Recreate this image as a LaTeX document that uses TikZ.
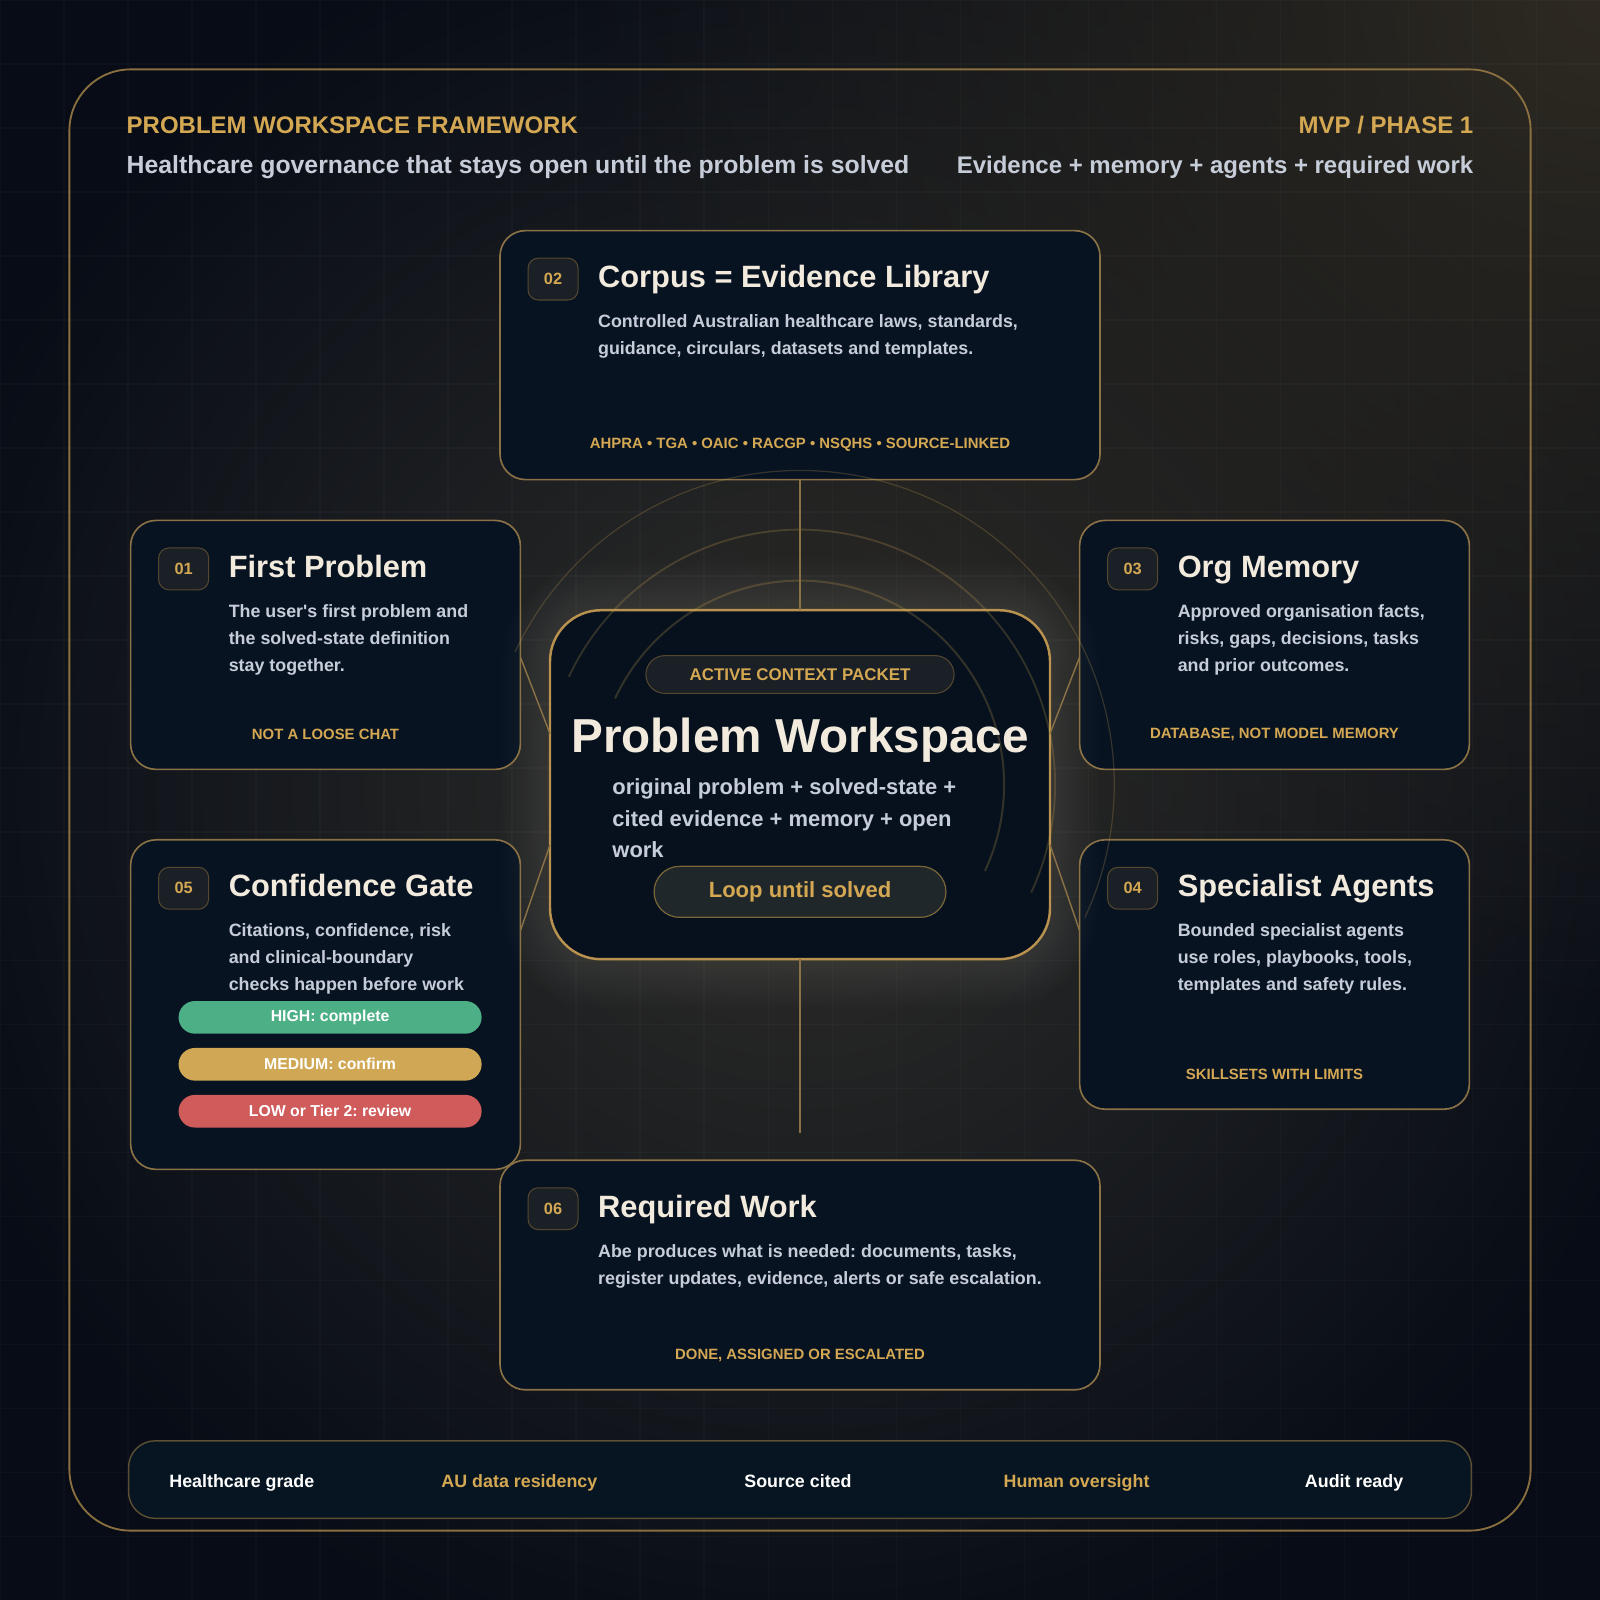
\documentclass[tikz,border=0pt]{standalone}
\usepackage{fontspec}
\setmainfont{Liberation Sans}
\newfontfamily\straightq{Liberation Sans}[Ligatures=TeXOff]
\usetikzlibrary{fadings}
\frenchspacing

\definecolor{bgc}{HTML}{070C16}
\definecolor{warm}{HTML}{2F2E2A}
\definecolor{corner}{HTML}{2E2A22}
\definecolor{halo}{HTML}{E8D9B0}
\definecolor{framec}{HTML}{8A7040}
\definecolor{cardfill}{HTML}{081322}
\definecolor{wsfill}{HTML}{06111D}
\definecolor{cardline}{HTML}{8A7246}
\definecolor{wsline}{HTML}{B8924E}
\definecolor{gold}{HTML}{D4A853}
\definecolor{cream}{HTML}{F2EBDD}
\definecolor{mist}{HTML}{C6CDD9}
\definecolor{chipfill}{HTML}{1B2027}
\definecolor{chipline}{HTML}{55482F}
\definecolor{loopfill}{HTML}{20272A}
\definecolor{loopline}{HTML}{7A6538}
\definecolor{okgreen}{HTML}{4DAF86}
\definecolor{midgold}{HTML}{D0A855}
\definecolor{lowred}{HTML}{D05B5B}
\definecolor{barfill}{HTML}{061521}
\definecolor{barline}{HTML}{5C4F33}

\tikzfading[name=glowfade, inner color=transparent!0, outer color=transparent!100]

\newcommand\bfsize[2]{\fontsize{#1}{#2}\selectfont\bfseries}
\newcommand\apos{{\straightq\bfseries '}}

% cards: name/number/left/top/right/bottom/title
\def\cardlist{corpus/02/490/226/1078/470/{Corpus = Evidence Library},first/01/128/510/510/754/{First Problem},mem/03/1058/510/1440/754/{Org Memory},conf/05/128/823/510/1146/{Confidence Gate},agents/04/1058/823/1440/1087/{Specialist Agents},work/06/490/1137/1078/1362/{Required Work}}
\def\desclist{corpus/{Controlled Australian healthcare laws, standards,\\guidance, circulars, datasets and templates.},first/{The user\apos s first problem and\\the solved-state definition\\stay together.},mem/{Approved organisation facts,\\risks, gaps, decisions, tasks\\and prior outcomes.},conf/{Citations, confidence, risk\\and clinical-boundary\\checks happen before work},agents/{Bounded specialist agents\\use roles, playbooks, tools,\\templates and safety rules.},work/{Abe produces what is needed: documents, tasks,\\register updates, evidence, alerts or safe escalation.}}
\def\taglist{corpus/{AHPRA • TGA • OAIC • RACGP • NSQHS • SOURCE-LINKED},first/{NOT A LOOSE CHAT},mem/{DATABASE, NOT MODEL MEMORY},agents/{SKILLSETS WITH LIMITS},work/{DONE, ASSIGNED OR ESCALATED}}

\begin{document}
\begin{tikzpicture}
   [x=1pt, y=-1pt,
   card/.style={draw=cardline, line width=1.6pt, fill=cardfill, rounded corners=25pt, inner sep=0pt, outer sep=0pt},
   wsbox/.style={draw=wsline, line width=2.4pt, fill=wsfill, rounded corners=50pt, inner sep=0pt, outer sep=0pt},
   chip/.style={draw=chipline, line width=1pt, fill=chipfill, rounded corners=10pt, minimum width=49pt, minimum height=41pt, inner sep=0pt, text=gold, font=\bfsize{16}{16}},
   cardtitle/.style={inner sep=0pt, text=cream, font=\bfsize{30.2}{30.2}},
   desc/.style={inner sep=0pt, text=mist, align=left, font=\bfsize{17.5}{26.5}},
   tag/.style={inner sep=0pt, text=gold, font=\bfsize{14.6}{14.6}},
   tier/.style={rounded corners=16pt, minimum width=297pt, minimum height=32pt, inner sep=0pt, text=white, font=\bfsize{15.5}{15.5}},
   head/.style={inner sep=0pt, font=\bfsize{23.5}{23.5}},
   link/.style={draw=cardline, line width=1.4pt},
   ring/.style={draw=gold, opacity=0.22},
   gridline/.style={draw=white, opacity=0.025, line width=1pt}]
\useasboundingbox (0,0) rectangle (1568,1568);

% backdrop and glow
\fill[bgc] (0,0) rectangle (1568,1568);
\fill[warm, path fading=glowfade] (784,769) circle (900);
\fill[corner, path fading=glowfade] (1568,0) circle (1000);
\foreach \k in {0,...,25} {
   \draw[gridline] (\k*62.72,0) -- (\k*62.72,1568);
   \draw[gridline] (0,\k*62.72) -- (1568,\k*62.72); }
\draw[framec, line width=1.8pt, rounded corners=60pt] (68,68) rectangle (1500,1500);

\node[head, text=gold, anchor=base west] (kicker) at (124,131) {PROBLEM WORKSPACE FRAMEWORK};
\node[head, text=mist, anchor=base west, font=\bfsize{24.3}{24.3}] (strap) at (124,170) {Healthcare governance that stays open until the problem is solved};
\node[head, text=gold, anchor=base east] (phase) at (1444,131) {MVP / PHASE 1};
\node[head, text=mist, anchor=base east] (stack) at (1444,170) {Evidence + memory + agents + required work};

% card frames
\foreach \nm/\num/\xa/\ya/\xb/\yb/\ttl in \cardlist {
   \pgfmathsetmacro\cw{\xb-\xa}
   \pgfmathsetmacro\ch{\yb-\ya}
   \node[card, minimum width=\cw pt, minimum height=\ch pt] (\nm) at ({(\xa+\xb)/2},{(\ya+\yb)/2}) {}; }

% workspace with halo
\foreach \g in {1,...,16}
   \fill[halo, opacity=0.007, rounded corners={50pt+\g*3pt}] (539-\g*3,598-\g*3) rectangle (1029+\g*3,940+\g*3);
\node[wsbox, minimum width=490pt, minimum height=342pt] (ws) at (784,769) {};

\foreach \r/\w in {308/1.2,250/1.8,200/2}
   \draw[ring, line width=\w pt] plot[domain=-155:25, samples=90, smooth] ({784+\r*cos(\x)},{769+\r*sin(\x)});

% connectors
\coordinate (tail) at (784,1110);
\draw[link] (corpus.south) -- (ws.north);
\draw[link] (ws.south) -- (tail);
\draw[link] ([yshift=-12pt]first.east) -- ([yshift=50pt]ws.west);
\draw[link] ([yshift=72.5pt]conf.east) -- ([yshift=-59pt]ws.west);
\draw[link] ([yshift=-12pt]mem.west) -- ([yshift=50pt]ws.east);
\draw[link] ([yshift=43pt]agents.west) -- ([yshift=-59pt]ws.east);

% card contents
\foreach \nm/\num/\xa/\ya/\xb/\yb/\ttl in \cardlist {
   \node[chip] (\nm-num) at ([xshift=52pt, yshift=-47.5pt]\nm.north west) {\num};
   \node[cardtitle, anchor=base west] (\nm-title) at ([xshift=96pt, yshift=-56pt]\nm.north west) {\ttl}; }
\foreach \nm/\txt in \desclist
   \node[desc, anchor=north west] (\nm-desc) at ([xshift=96pt, yshift=-82pt]\nm.north west) {\txt};
\foreach \nm/\txt in \taglist
   \node[tag] (\nm-tag) at ([yshift=34pt]\nm.south) {\txt};

\node[tier, fill=okgreen] (high) at (323.5,997) {HIGH: complete};
\node[tier, fill=midgold] (medium) at (323.5,1043) {MEDIUM: confirm};
\node[tier, fill=lowred] (low) at (323.5,1089) {LOW or Tier 2: review};

% workspace contents
\node[draw=chipline, line width=1pt, fill=chipfill, rounded corners=18.5pt, minimum width=302pt, minimum height=37pt, inner sep=0pt, text=gold, font=\bfsize{16.6}{16.6}] (packet) at (784,661) {ACTIVE CONTEXT PACKET};
\node[inner sep=0pt, text=cream, font=\bfsize{46.7}{46.7}, anchor=base] (wstitle) at (784,737) {Problem Workspace};
\node[inner sep=0pt, text=mist, align=left, font=\bfsize{21.5}{31}, anchor=north west] (wsbody) at (600,763) {original problem + solved-state +\\cited evidence + memory + open\\work};
\node[draw=loopline, line width=1.2pt, fill=loopfill, rounded corners=25pt, minimum width=286pt, minimum height=50pt, inner sep=0pt, text=gold, font=\bfsize{21.6}{21.6}] (loop) at (784,874) {Loop until solved};

% footer strip
\node[draw=barline, line width=1.4pt, fill=barfill, rounded corners=26pt, minimum width=1316pt, minimum height=76pt, inner sep=0pt] (bar) at (784,1450) {};
\foreach \lbl/\x/\col [count=\i] in {Healthcare grade/237/white,AU data residency/509/gold,Source cited/782/white,Human oversight/1055/gold,Audit ready/1327/white}
   \node[inner sep=0pt, text=\col, font=\bfsize{17.5}{17.5}, anchor=base] (perk\i) at (\x,1458) {\lbl};
\end{tikzpicture}
\end{document}
